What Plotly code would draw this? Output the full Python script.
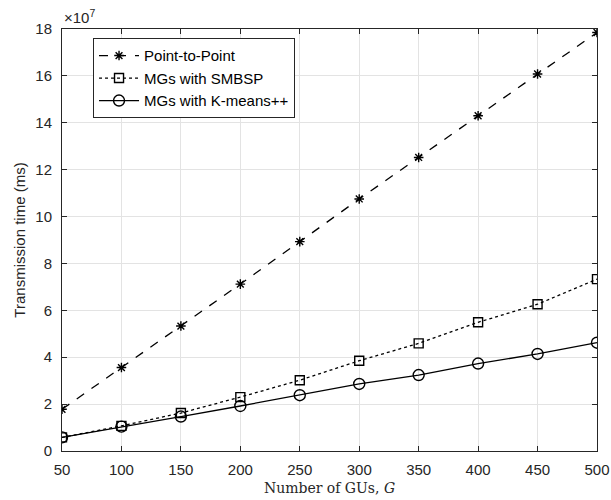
import plotly.graph_objects as go

G = [50, 100, 150, 200, 250, 300, 350, 400, 450, 500]
p2p = [1.78, 3.56, 5.33, 7.12, 8.93, 10.75, 12.52, 14.30, 16.08, 17.85]
smbsp = [0.58, 1.07, 1.62, 2.30, 3.02, 3.85, 4.59, 5.49, 6.26, 7.33]
kmeans = [0.58, 1.04, 1.47, 1.92, 2.38, 2.86, 3.24, 3.73, 4.14, 4.62]
scale = 1e7

x_ticks = G
y_ticks = [0, 2, 4, 6, 8, 10, 12, 14, 16, 18]

fig = go.Figure()
fig.add_trace(go.Scatter(x=G, y=[v * scale for v in p2p], name="Point-to-Point",
                         mode="lines+markers",
                         line=dict(color="black", width=1.3, dash="dash"),
                         marker=dict(symbol="asterisk-open", size=8, color="black",
                                     line=dict(color="black", width=1.4))))
fig.add_trace(go.Scatter(x=G, y=[v * scale for v in smbsp], name="MGs with SMBSP",
                         mode="lines+markers",
                         line=dict(color="black", width=1.3, dash="dot"),
                         marker=dict(symbol="square-open", size=9, color="black",
                                     line=dict(color="black", width=1.4))))
fig.add_trace(go.Scatter(x=G, y=[v * scale for v in kmeans], name="MGs with K-means++",
                         mode="lines+markers",
                         line=dict(color="black", width=1.3, dash="solid"),
                         marker=dict(symbol="circle-open", size=11, color="black",
                                     line=dict(color="black", width=1.4))))

axis_common = dict(showline=True, linecolor="#262626", linewidth=1, mirror="ticks",
                   ticks="inside", ticklen=5, tickcolor="#262626", automargin=False,
                   showgrid=True, gridcolor="#e3e3e3", gridwidth=1, zeroline=False,
                   tickfont=dict(family="Liberation Sans, Arial", size=15, color="#262626"))

fig.update_xaxes(range=[50, 500], tickvals=x_ticks, ticktext=[str(v) for v in x_ticks],
                 ticklabelstandoff=5,
                 title=dict(text="Number of GUs, <i>G</i>",
                            font=dict(family="DejaVu Serif", size=14, color="#262626"),
                            standoff=6),
                 **axis_common)
fig.update_yaxes(range=[0, 18 * scale], tickvals=[v * scale for v in y_ticks],
                 ticktext=[str(v) for v in y_ticks],
                 ticklabelstandoff=6,
                 title=dict(text="Transmission time (ms)",
                            font=dict(family="Liberation Sans, Arial", size=15, color="#262626"),
                            standoff=6),
                 **axis_common)

fig.add_annotation(x=0, y=1, xref="paper", yref="paper", xanchor="left", yanchor="bottom",
                   text="×10<sup>7</sup>", showarrow=False, yshift=1,
                   font=dict(family="Liberation Sans, Arial", size=15, color="#262626"))

fig.update_layout(width=611, height=500, margin=dict(l=62, r=14, t=29, b=49),
                  plot_bgcolor="white", paper_bgcolor="white", showlegend=True,
                  legend=dict(x=0.058, y=0.978, xanchor="left", yanchor="top",
                              bgcolor="white", bordercolor="#262626", borderwidth=1,
                              font=dict(family="Liberation Sans, Arial", size=15, color="black"),
                              tracegroupgap=0, itemwidth=40))

fig.write_html("out.html")
